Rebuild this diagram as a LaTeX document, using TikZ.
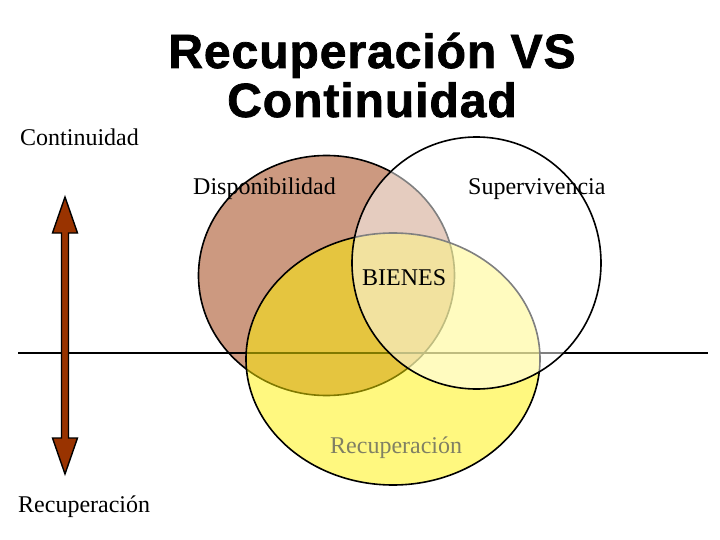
\documentclass[tikz,border=0pt]{standalone}
\usepackage{fontspec}
\setmainfont{Liberation Serif}
\newfontfamily\titlefont{Liberation Sans}[LetterSpace=2,BoldFeatures={FakeBold=1.5}]
\definecolor{brownfill}{RGB}{204,153,128}
\definecolor{arrowbrown}{RGB}{153,51,0}
\definecolor{innergray}{RGB}{128,128,100}
\begin{document}
\begin{tikzpicture}[x=1pt,y=-1pt,
  lbl/.style={anchor=base west,inner sep=0pt,font=\fontsize{24}{28}\selectfont},
  ttl/.style={inner sep=0pt,font=\titlefont\bfseries\fontsize{48}{49}\selectfont},
  setline/.style={draw=black,line width=1.6pt}]
\useasboundingbox (0,0) rectangle (720,540);
% Disponibilidad set
\draw[setline,fill=brownfill] (326.5,275.5) ellipse [x radius=128,y radius=120];
% horizontal axis
\coordinate (hl) at (18,353);
\coordinate (hr) at (708,353);
\draw[line width=2.4pt] (hl) -- (hr);
% Recuperacion set
\draw[setline,fill=yellow,fill opacity=0.5,draw opacity=1] (393,359) ellipse [x radius=147,y radius=126];
% Supervivencia set
\draw[setline,fill=white,fill opacity=0.5] (476.5,263) ellipse [x radius=124.5,y radius=126];
% double arrow
\draw[line width=1.4pt,fill=arrowbrown,line join=miter]
  (65,197) -- (77.5,233) -- (68.5,233) -- (68.5,438) -- (77.5,438) -- (65,474)
  -- (52.5,438) -- (61.5,438) -- (61.5,233) -- (52.5,233) -- cycle;
% title
\node[ttl,anchor=base] (t1) at (372,68) {Recuperación VS};
\node[ttl,anchor=base] (t2) at (372,117) {Continuidad};
% labels
\node[lbl] (cont) at (20,146) {Continuidad};
\node[lbl] (recu) at (18,512) {Recuperación};
\node[lbl] (disp) at (193,195) {Disponibilidad};
\node[lbl] (super) at (468,195) {Supervivencia};
\node[lbl] (bienes) at (362,285) {BIENES};
\node[lbl,text=innergray] (recin) at (330,453) {Recuperación};
\end{tikzpicture}
\end{document}
